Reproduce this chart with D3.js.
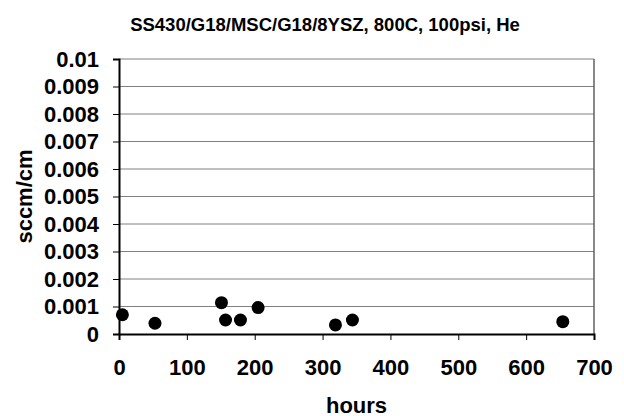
<!DOCTYPE html>
<html>
<head>
<meta charset="utf-8">
<script src="https://cdn.jsdelivr.net/npm/d3@7"></script>
<style>
  body { margin: 0; background: #fff; }
  text { font-family: "Liberation Sans", Arial, sans-serif; font-weight: bold; }
</style>
</head>
<body>
<svg class="container"></svg>
<script>
// data
const hours = [5, 53, 151, 157, 179, 205, 319, 344, 654];
const sccm = [0.0007, 0.00039, 0.00114, 0.00051, 0.00051, 0.00096, 0.00033, 0.00051, 0.00045];
const xTicks = [0, 100, 200, 300, 400, 500, 600, 700];
const yTicks = [0, 0.001, 0.002, 0.003, 0.004, 0.005, 0.006, 0.007, 0.008, 0.009, 0.01];

const width = 624;
const height = 416;
const margin = { top: 59, right: 30, bottom: 82, left: 119 };
const innerWidth = width - margin.left - margin.right;
const innerHeight = height - margin.top - margin.bottom;

const svg = d3.select(".container").attr("width", width).attr("height", height);
const innerChart = svg.append("g").attr("transform", `translate(${margin.left}, ${margin.top})`);

const xScale = d3.scaleLinear().domain([0, 700]).range([0, innerWidth]);
const yScale = d3.scaleLinear().domain([0, 0.01]).range([innerHeight, 0]);

// gridlines
innerChart.selectAll(".grid").data(yTicks.slice(1)).join("line").attr("class", "grid")
  .attr("x1", 0).attr("x2", innerWidth)
  .attr("y1", d => yScale(d)).attr("y2", d => yScale(d))
  .attr("stroke", "#808080").attr("stroke-width", 1);

// right border
innerChart.append("line")
  .attr("x1", innerWidth).attr("x2", innerWidth).attr("y1", 0).attr("y2", innerHeight)
  .attr("stroke", "#606060").attr("stroke-width", 1.5);

const xAxis = d3.axisBottom(xScale).tickValues(xTicks).tickSize(6).tickPadding(19).tickFormat(d3.format("d"));
const yAxis = d3.axisLeft(yScale).tickValues(yTicks).tickSize(6).tickPadding(14).tickFormat(d => d === 0 ? "0" : String(+d.toFixed(3)));

innerChart.append("g").attr("class", "x-axis")
  .attr("transform", `translate(0, ${innerHeight})`)
  .call(xAxis);

innerChart.append("g").attr("class", "y-axis")
  .call(yAxis);

svg.selectAll(".domain").attr("stroke", "#000").attr("stroke-width", 2);
svg.selectAll(".tick line").attr("stroke", "#000");
svg.selectAll(".tick text").attr("font-size", 22).attr("fill", "#000");

innerChart.selectAll("circle").data(hours).join("circle")
  .attr("cx", d => xScale(d))
  .attr("cy", (d, i) => yScale(sccm[i]))
  .attr("r", 6.5)
  .attr("fill", "#000");

// Labels
svg.append("text")
  .attr("x", 325)
  .attr("y", 31)
  .attr("text-anchor", "middle")
  .attr("font-size", 18.5)
  .text("SS430/G18/MSC/G18/8YSZ, 800C, 100psi, He");

svg.append("text")
  .attr("x", margin.left + innerWidth / 2)
  .attr("y", 413)
  .attr("text-anchor", "middle")
  .attr("font-size", 22)
  .text("hours");

svg.append("text")
  .attr("x", -(margin.top + innerHeight / 2))
  .attr("y", 32)
  .attr("transform", "rotate(-90)")
  .attr("text-anchor", "middle")
  .attr("font-size", 22)
  .text("sccm/cm");
</script>
</body>
</html>
